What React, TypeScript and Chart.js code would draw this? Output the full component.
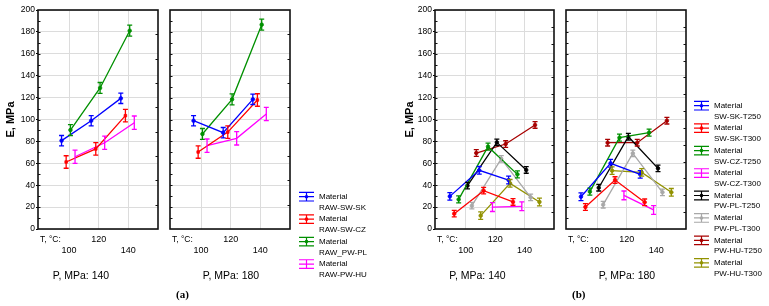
import React, { useEffect, useRef } from "react";
import { Chart, registerables } from "chart.js";

Chart.register(...registerables);

// Pressing temperatures (°C) shown on every x axis
const TEMPERATURES = [100, 120, 140];
const E_MIN = 0;
const E_MAX = 200;
const E_STEP = 20;

// (a) raw boards: modulus of elasticity E, MPa
const RAW_NAMES = ["RAW-SW-SK", "RAW-SW-CZ", "RAW_PW-PL", "RAW-PW-HU"];
const RAW_SW_SK_P140 = [80.7, 98.9, 119.3];
const RAW_SW_CZ_P140 = [61.2, 73.1, 103.5];
const RAW_PW_PL_P140 = [90.4, 128.8, 181.1];
const RAW_PW_HU_P140 = [66.0, 78.8, 97.1];
const RAW_SW_SK_P180 = [98.9, 88.0, 118.4];
const RAW_SW_CZ_P180 = [70.3, 88.5, 117.8];
const RAW_PW_PL_P180 = [86.8, 118.4, 186.6];
const RAW_PW_HU_P180 = [76.1, 82.8, 105.0];
const RAW_SD = [4.7, 5.7, 5.0, 6.1];

// (b) torrefied boards: modulus of elasticity E, MPa
const MOD_NAMES = [
  "SW-SK-T250", "SW-SK-T300", "SW-CZ-T250", "SW-CZ-T300",
  "PW-PL-T250", "PW-PL-T300", "PW-HU-T250", "PW-HU-T300",
];
const SW_SK_T250_P140 = [29.8, 53.6, 44.7];
const SW_SK_T300_P140 = [14.0, 35.0, 24.7];
const SW_CZ_T250_P140 = [27.0, 75.2, 49.9];
const SW_CZ_T300_P140 = [null, 20.0, 20.7];
const PW_PL_T250_P140 = [39.6, 79.1, 53.9];
const PW_PL_T300_P140 = [21.3, 64.0, 28.9];
const PW_HU_T250_P140 = [69.4, 77.6, 95.0];
const PW_HU_T300_P140 = [12.2, 41.7, 24.7];
const SW_SK_T250_P180 = [29.5, 60.0, 49.9];
const SW_SK_T300_P180 = [20.1, 44.7, 24.4];
const SW_CZ_T250_P180 = [34.1, 83.4, 88.0];
const SW_CZ_T300_P180 = [null, 30.7, 17.4];
const PW_PL_T250_P180 = [37.7, 84.3, 55.4];
const PW_PL_T300_P180 = [22.2, 69.1, 33.5];
const PW_HU_T250_P180 = [78.8, 78.8, 98.9];
const PW_HU_T300_P180 = [53.3, 51.7, 33.5];
const MOD_SD = [3.5, 3.0, 3.2, 4.0, 3.0, 3.0, 3.0, 3.5];

// Styling
const FONT = "'Liberation Sans', Arial, sans-serif";
const GRID = "#dcdcdc";
const RAW_COLORS = ["#0000ff", "#ff0000", "#009000", "#ff00ff"];
const RAW_MARKERS: (string | false)[] = ["circle", "rect", "circle", false];
const RAW_SHIFT = [-5.1, -2.0, 0.9, 4.0];
const MOD_COLORS = ["#0000ff", "#ff0000", "#009000", "#ff00ff", "#000000", "#a8a8a8", "#a80000", "#929200"];
const MOD_MARKERS: (string | false)[] = ["circle", "circle", "circle", false, "circle", "circle", "circle", "circle"];
const MOD_SHIFT = [-10.9, -7.9, -4.9, -1.9, 1.1, 4.1, 7.1, 10.1];

type SeriesSpec = {
  name: string;
  values: (number | null)[];
  sd: number;
  color: string;
  shift: number;
  marker: string | false;
};

type PlotSpec = {
  left: number;
  width: number;
  yWidth: number;
  padLeft: number;
  padRight: number;
  showY: boolean;
  pressure: number;
  pLabelShift: number;
  rightTicks: number;
  series: SeriesSpec[];
  legendY: number | null;
  tag: string | null;
};

function buildSeries(
  names: string[],
  values: (number | null)[][],
  sds: number[],
  colors: string[],
  shifts: number[],
  markers: (string | false)[]
): SeriesSpec[] {
  return names.map((name, i) => ({
    name,
    values: values[i],
    sd: sds[i],
    color: colors[i],
    shift: shifts[i],
    marker: markers[i],
  }));
}

const RAW_P140 = buildSeries(RAW_NAMES, [RAW_SW_SK_P140, RAW_SW_CZ_P140, RAW_PW_PL_P140, RAW_PW_HU_P140], RAW_SD, RAW_COLORS, RAW_SHIFT, RAW_MARKERS);
const RAW_P180 = buildSeries(RAW_NAMES, [RAW_SW_SK_P180, RAW_SW_CZ_P180, RAW_PW_PL_P180, RAW_PW_HU_P180], RAW_SD, RAW_COLORS, RAW_SHIFT, RAW_MARKERS);
const MOD_P140 = buildSeries(MOD_NAMES, [SW_SK_T250_P140, SW_SK_T300_P140, SW_CZ_T250_P140, SW_CZ_T300_P140, PW_PL_T250_P140, PW_PL_T300_P140, PW_HU_T250_P140, PW_HU_T300_P140], MOD_SD, MOD_COLORS, MOD_SHIFT, MOD_MARKERS);
const MOD_P180 = buildSeries(MOD_NAMES, [SW_SK_T250_P180, SW_SK_T300_P180, SW_CZ_T250_P180, SW_CZ_T300_P180, PW_PL_T250_P180, PW_PL_T300_P180, PW_HU_T250_P180, PW_HU_T300_P180], MOD_SD, MOD_COLORS, MOD_SHIFT, MOD_MARKERS);

const PLOTS: PlotSpec[] = [
  { left: 0, width: 165, yWidth: 38, padLeft: 0, padRight: 7, showY: true, pressure: 140, pLabelShift: -17, rightTicks: 9, series: RAW_P140, legendY: null, tag: null },
  { left: 165, width: 215, yWidth: 0, padLeft: 5, padRight: 90, showY: false, pressure: 180, pLabelShift: 1, rightTicks: 9, series: RAW_P180, legendY: 196.7, tag: "(a)" },
  { left: 399, width: 161, yWidth: 36, padLeft: 0, padRight: 6, showY: true, pressure: 140, pLabelShift: -17, rightTicks: 13, series: MOD_P140, legendY: null, tag: null },
  { left: 560, width: 209, yWidth: 0, padLeft: 6, padRight: 83, showY: false, pressure: 180, pLabelShift: 1, rightTicks: 13, series: MOD_P180, legendY: 105.7, tag: "(b)" },
];

const HEIGHT = 306;
const T_MIN = 79;
const T_MAX = 160;

function decorations(spec: PlotSpec) {
  return {
    id: "decorations",
    afterDatasetsDraw(chart: any) {
      const { ctx, scales } = chart;
      const ys = scales.y;
      chart.data.datasets.forEach((ds: any, di: number) => {
        const meta = chart.getDatasetMeta(di);
        ctx.save();
        ctx.strokeStyle = ds.borderColor;
        ctx.lineWidth = 1.3;
        meta.data.forEach((pt: any, i: number) => {
          const v = ds.data[i].y;
          const top = ys.getPixelForValue(v + ds.sd);
          const bot = ys.getPixelForValue(v - ds.sd);
          ctx.beginPath();
          ctx.moveTo(pt.x, top);
          ctx.lineTo(pt.x, bot);
          ctx.moveTo(pt.x - 2.5, top);
          ctx.lineTo(pt.x + 2.5, top);
          ctx.moveTo(pt.x - 2.5, bot);
          ctx.lineTo(pt.x + 2.5, bot);
          ctx.stroke();
        });
        ctx.restore();
      });
    },
    afterDraw(chart: any) {
      const { ctx, chartArea: a, scales } = chart;
      const ys = scales.y;
      ctx.save();
      // frame
      ctx.strokeStyle = "#111";
      ctx.lineWidth = 1.6;
      ctx.strokeRect(a.left, a.top, a.right - a.left, a.bottom - a.top);
      // inner ticks
      ctx.lineWidth = 1;
      ctx.beginPath();
      for (let v = E_MIN + 10; v < E_MAX; v += 10) {
        const y = Math.round(ys.getPixelForValue(v)) + 0.5;
        ctx.moveTo(a.left, y);
        ctx.lineTo(a.left + 2.5, y);
      }
      for (let k = 1; k < spec.rightTicks; k++) {
        const y = Math.round(a.top + (k * (a.bottom - a.top)) / spec.rightTicks) + 0.5;
        ctx.moveTo(a.right - 2.5, y);
        ctx.lineTo(a.right, y);
      }
      ctx.stroke();

      // axis captions
      ctx.fillStyle = "#000";
      ctx.textBaseline = "middle";
      ctx.textAlign = "left";
      ctx.font = `8.5px ${FONT}`;
      ctx.fillText("T, °C:", a.left + 2, 239.3);
      ctx.textAlign = "center";
      ctx.font = `10.5px ${FONT}`;
      ctx.fillText(`P, MPa: ${spec.pressure}`, (a.left + a.right) / 2 + spec.pLabelShift, 275.7);

      if (spec.tag) {
        ctx.textAlign = "left";
        ctx.font = `bold 11px 'Liberation Serif', 'Times New Roman', serif`;
        ctx.fillText(spec.tag, a.left + 6, 295);
      }

      // legend
      if (spec.legendY !== null) {
        const x0 = 134;
        const x1 = 149;
        const xm = (x0 + x1) / 2;
        spec.series.forEach((s, i) => {
          const y = spec.legendY! + i * 22.45;
          ctx.strokeStyle = s.color;
          ctx.fillStyle = s.color;
          ctx.lineWidth = 1.2;
          ctx.beginPath();
          ctx.moveTo(x0, y - 4.3);
          ctx.lineTo(x1, y - 4.3);
          ctx.moveTo(x0, y);
          ctx.lineTo(x1, y);
          ctx.moveTo(x0, y + 4.3);
          ctx.lineTo(x1, y + 4.3);
          ctx.moveTo(xm, y - 4.3);
          ctx.lineTo(xm, y + 4.3);
          ctx.stroke();
          if (s.marker) {
            ctx.beginPath();
            ctx.arc(xm, y, 1.8, 0, Math.PI * 2);
            ctx.fill();
          }
          ctx.fillStyle = "#000";
          ctx.textAlign = "left";
          ctx.font = `8px ${FONT}`;
          ctx.fillText("Material", 154, y);
          ctx.fillText(s.name, 154, y + 10.7);
        });
      }
      ctx.restore();
    },
  };
}

function makeConfig(spec: PlotSpec): any {
  return {
    type: "scatter",
    data: {
      datasets: spec.series.map((s) => ({
        label: s.name,
        data: TEMPERATURES.map((t, i) => (s.values[i] === null ? null : { x: t + s.shift, y: s.values[i] })).filter(
          (p) => p !== null
        ),
        sd: s.sd,
        showLine: true,
        borderColor: s.color,
        backgroundColor: s.color,
        borderWidth: 1.3,
        pointRadius: s.marker ? 1.8 : 0,
        pointStyle: s.marker || "circle",
        pointBorderWidth: 0.8,
      })),
    },
    options: {
      animation: false,
      responsive: false,
      devicePixelRatio: 1,
      events: [],
      layout: { padding: { top: 10, bottom: 0, left: spec.padLeft, right: spec.padRight } },
      plugins: { legend: { display: false }, tooltip: { enabled: false } },
      scales: {
        x: {
          type: "linear",
          min: T_MIN,
          max: T_MAX,
          afterBuildTicks: (scale: any) => {
            scale.ticks = TEMPERATURES.map((value) => ({ value }));
          },
          afterFit: (scale: any) => {
            scale.height = HEIGHT - 229;
          },
          grid: { color: GRID, drawTicks: false },
          border: { display: false },
          ticks: {
            padding: 4.6,
            color: "#000",
            font: { family: FONT, size: 9, lineHeight: 1.27 },
            maxRotation: 0,
            autoSkip: false,
            callback: (value: number, index: number) =>
              index % 2 === 1 ? [String(value), ""] : ["", String(value)],
          },
        },
        y: {
          min: E_MIN,
          max: E_MAX,
          afterFit: (scale: any) => {
            scale.width = spec.yWidth;
          },
          grid: { color: GRID, drawTicks: spec.showY, tickLength: 2, tickColor: "#000" },
          border: { display: false },
          ticks: {
            display: spec.showY,
            stepSize: E_STEP,
            padding: 1,
            color: "#000",
            font: { family: FONT, size: 8.5 },
          },
          title: {
            display: spec.showY,
            text: "E, MPa",
            color: "#000",
            font: { family: FONT, size: 11, weight: "bold" },
            padding: { top: 3.9, bottom: 0 },
          },
        },
      },
    },
    plugins: [decorations(spec)],
  };
}

export default function App() {
  const refs = useRef<(HTMLCanvasElement | null)[]>([]);

  useEffect(() => {
    const charts = PLOTS.map((spec, i) => new Chart(refs.current[i] as HTMLCanvasElement, makeConfig(spec)));
    return () => charts.forEach((c) => c.destroy());
  }, []);

  return (
    <div
      style={{
        position: "fixed",
        left: 0,
        top: 0,
        width: 769,
        height: HEIGHT,
        background: "#fff",
        overflow: "hidden",
      }}
    >
      {PLOTS.map((spec, i) => (
        <canvas
          key={i}
          ref={(el) => {
            refs.current[i] = el;
          }}
          width={spec.width}
          height={HEIGHT}
          style={{ position: "absolute", left: spec.left, top: 0, width: spec.width, height: HEIGHT }}
        />
      ))}
    </div>
  );
}
